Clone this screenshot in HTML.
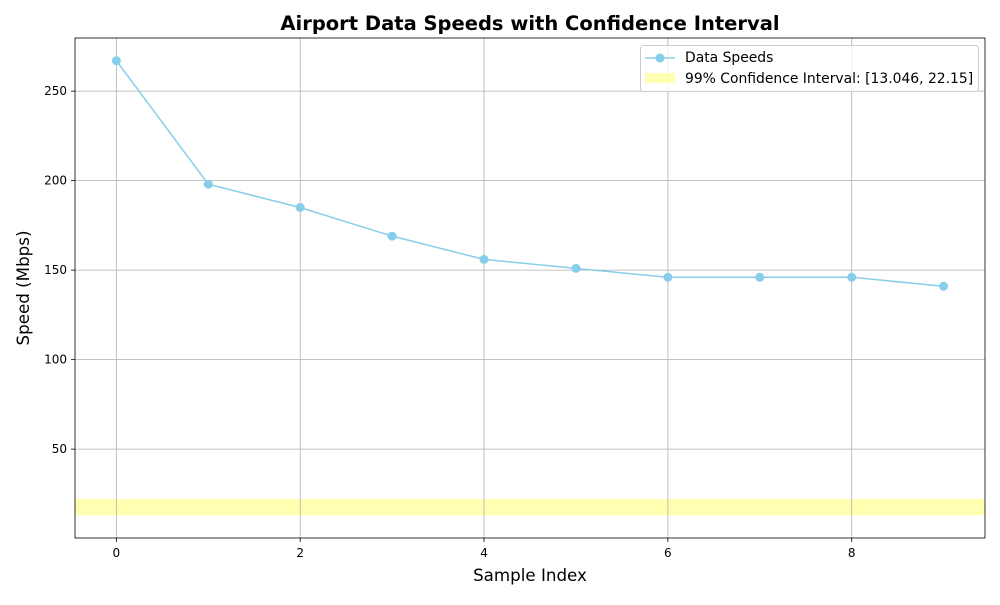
<!DOCTYPE html>
<html><head><meta charset="utf-8">
<style>
body{margin:0;background:#fff;font-family:"Liberation Sans","DejaVu Sans",sans-serif;}
</style></head>
<body>
<svg id="chart" width="1000" height="600" xmlns="http://www.w3.org/2000/svg" font-family="DejaVu Sans, Liberation Sans, sans-serif">
<rect width="1000" height="600" fill="#fff"/>
<text x="530" y="30" text-anchor="middle" font-size="19.5" font-weight="bold">Airport Data Speeds with Confidence Interval</text>
<g id="plot"></g>
<text x="530" y="581" text-anchor="middle" font-size="16.7">Sample Index</text>
<text transform="translate(29,288) rotate(-90)" text-anchor="middle" font-size="16.7">Speed (Mbps)</text>
<g>
<rect x="640.5" y="45.5" width="338" height="46" rx="3" fill="#fff" fill-opacity="0.8" stroke="#ccc"/>
<line x1="645" y1="58" x2="675" y2="58" stroke="#87ceeb" stroke-width="1.5"/>
<circle cx="660" cy="58" r="4.5" fill="#87ceeb"/>
<text x="685" y="62" font-size="13.9">Data Speeds</text>
<rect x="645" y="73" width="30" height="10" fill="#ffff00" fill-opacity="0.3"/>
<text x="685" y="83" font-size="13.9">99% Confidence Interval: [13.046, 22.15]</text>
</g>
</svg>
<script>
const xIndex=[0,1,2,3,4,5,6,7,8,9];
const speeds=[267,198,185,169,156,151,146,146,146,141];
const ciBand=[13.046,22.15];
const xTicks=[0,2,4,6,8];
const yTicks=[50,100,150,200,250];
const L=75,R=985,T=38,B=538;
const xMin=-0.45,xMax=9.45,yMin=0.35,yMax=279.7;
const sx=v=>L+(v-xMin)/(xMax-xMin)*(R-L);
const sy=v=>B-(v-yMin)/(yMax-yMin)*(B-T);
const NS="http://www.w3.org/2000/svg";
const g=document.getElementById('plot');
function mk(t,a){const e=document.createElementNS(NS,t);for(const k in a)e.setAttribute(k,a[k]);g.appendChild(e);return e;}
let band=mk('rect',{x:L,y:sy(ciBand[1]),width:R-L,height:sy(ciBand[0])-sy(ciBand[1]),fill:'#ffff00','fill-opacity':0.3});


xTicks.forEach(t=>{
 let l=mk('line',{x1:sx(t),x2:sx(t),y1:T,y2:B,stroke:'#b0b0b0','stroke-width':0.8});
 
 
 mk('line',{x1:sx(t),x2:sx(t),y1:B,y2:B+4,stroke:'#000','stroke-width':0.8});
 let tx=mk('text',{x:sx(t),y:B+19,'text-anchor':'middle','font-size':12});tx.textContent=t;
 
 
});
yTicks.forEach(t=>{
 let l=mk('line',{x1:L,x2:R,y1:sy(t),y2:sy(t),stroke:'#b0b0b0','stroke-width':0.8});
 
 
 mk('line',{x1:L-4,x2:L,y1:sy(t),y2:sy(t),stroke:'#000','stroke-width':0.8});
 let tx=mk('text',{x:L-8,y:sy(t)+4,'text-anchor':'end','font-size':12});tx.textContent=t;
 
 
});
let p=mk('polyline',{points:xIndex.map((x,i)=>sx(x)+','+sy(speeds[i])).join(' '),fill:'none',stroke:'#87ceeb','stroke-width':1.5});


xIndex.forEach((x,i)=>{
 let c=mk('circle',{cx:sx(x),cy:sy(speeds[i]),r:4.5,fill:'#87ceeb'});
 
 
});
let f=mk('rect',{x:L,y:T,width:R-L,height:B-T,fill:'none',stroke:'#000','stroke-width':0.8});


</script>
</body></html>
